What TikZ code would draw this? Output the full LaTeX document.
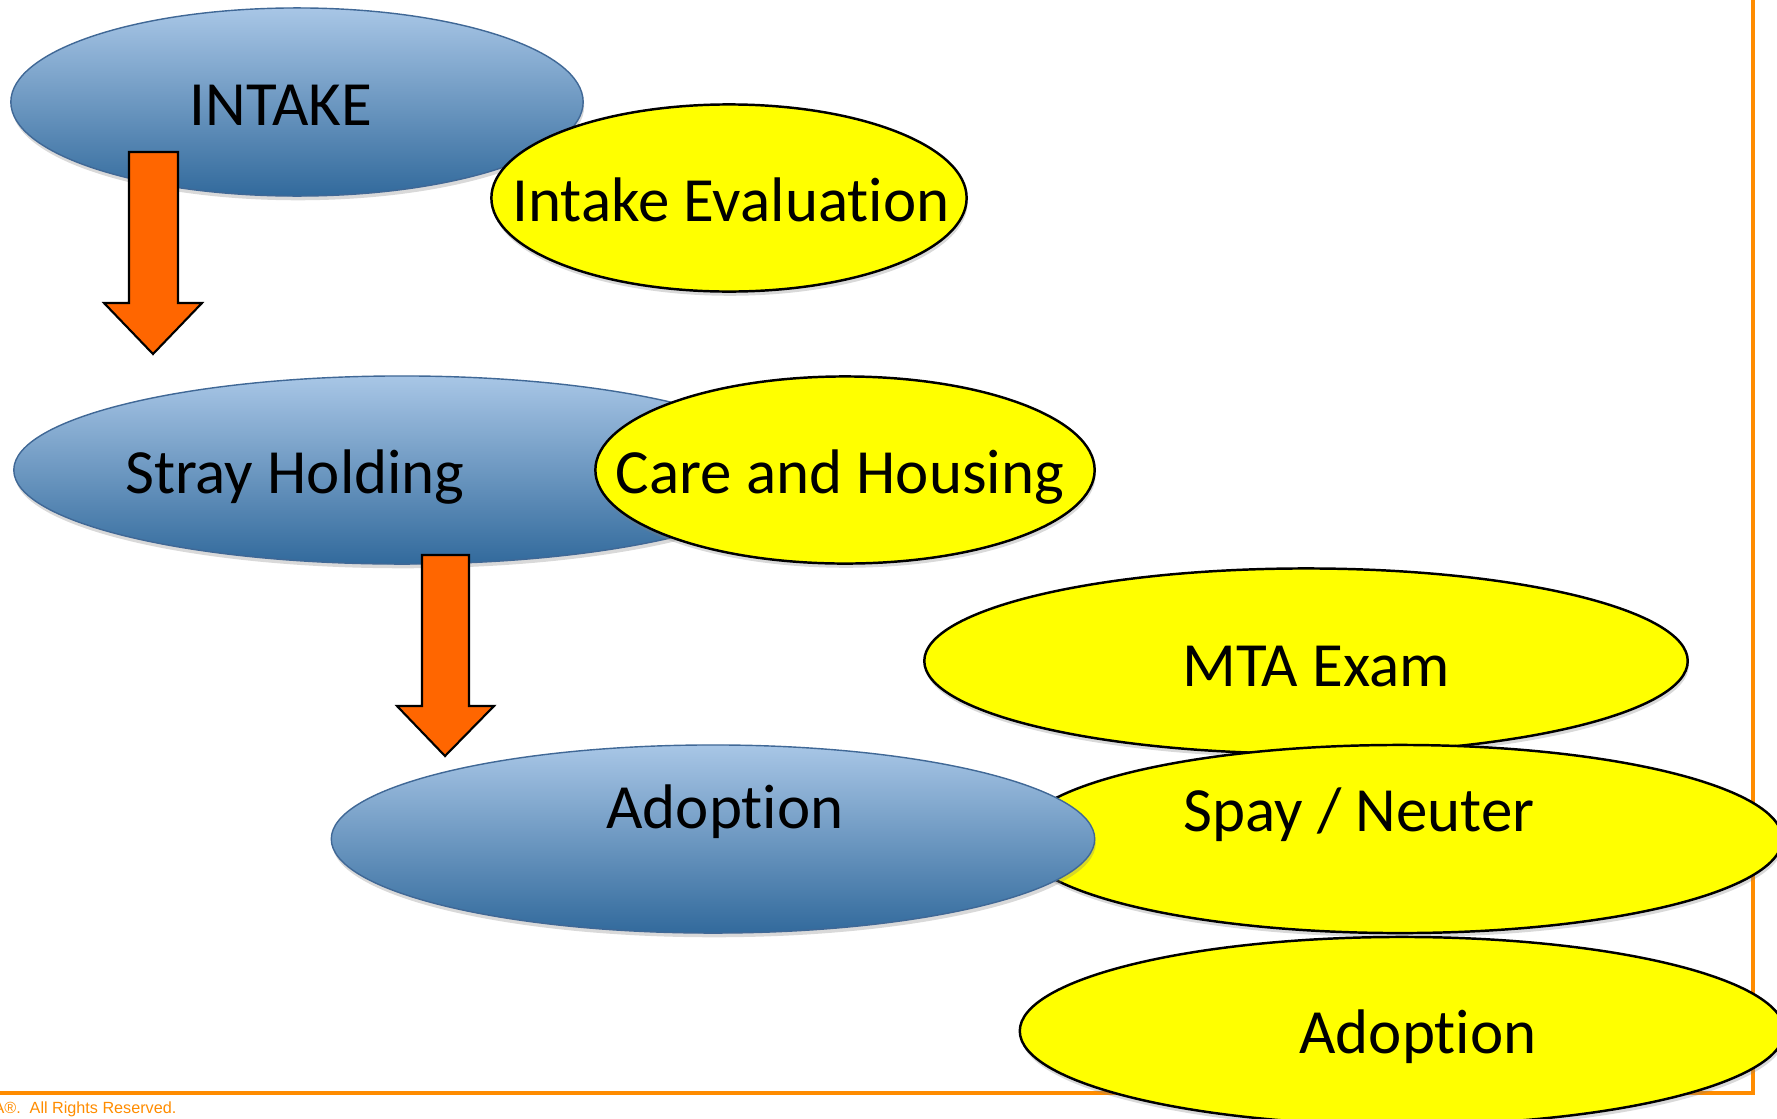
\documentclass[tikz,border=0pt]{standalone}
\usepackage{fontspec}
\setmainfont{Carlito}[Ligatures={CommonOff,ContextualOff},RawFeature={-liga;-clig;-calt}]
\newfontfamily\footfont{Liberation Sans}
\usetikzlibrary{shapes.geometric,shadows}
\definecolor{ovaltop}{RGB}{168,198,230}
\definecolor{ovalbot}{RGB}{50,106,156}
\definecolor{ovalline}{RGB}{64,104,150}
\definecolor{ovalyellow}{RGB}{255,255,0}
\definecolor{arroworange}{RGB}{255,102,0}
\definecolor{slideorange}{RGB}{255,140,0}
\tikzset{
  softshadow/.style={drop shadow={opacity=0.3,shadow xshift=0.3pt,shadow yshift=-1.2pt}},
  blueoval/.style={ellipse, draw=ovalline, line width=0.4pt, top color=ovaltop, bottom color=ovalbot, softshadow},
  yellowoval/.style={ellipse, draw=black, line width=0.7pt, fill=ovalyellow, softshadow},
  lbl/.style={anchor=base, inner sep=0pt, font=\fontsize{17.9}{20}\selectfont},
  blockarrow/.style={draw=black, line width=0.6pt, fill=arroworange, line join=miter}
}
\begin{document}
\begin{tikzpicture}[x=0.01cm,y=-0.01cm]
  \useasboundingbox (0,0) rectangle (1777,1118);
  % slide frame and footer
  \draw[slideorange, line width=0.9pt] (0,1093) -- (1753,1093) -- (1753,0);
  \node[anchor=base east, inner sep=0pt, text=slideorange, font=\footfont\fontsize{4.6}{5}\selectfont] (rights) at (177,1113) {A®.\ \ All Rights Reserved.};
  % right hand column
  \node[yellowoval, minimum width=7.63cm, minimum height=1.85cm] (mta) at (1306,661) {};
  \node[lbl] (mtatext) at (1316,686) {MTA Exam};
  \node[yellowoval, minimum width=7.64cm, minimum height=1.88cm] (spay) at (1400,839) {};
  \node[lbl] (spaytext) at (1359,831) {Spay / Neuter};
  \node[blueoval, minimum width=7.63cm, minimum height=1.88cm] (adopt) at (713,839) {};
  \node[lbl] (adopttext) at (725,828) {Adoption};
  \node[yellowoval, minimum width=7.64cm, minimum height=1.88cm] (adoptyellow) at (1402,1031) {};
  \node[lbl] (adoptyellowtext) at (1418,1053) {Adoption};
  % intake
  \node[blueoval, minimum width=5.72cm, minimum height=1.88cm] (intake) at (297,102) {};
  \node[lbl] (intaketext) at (281,125) {INTAKE};
  \node[yellowoval, minimum width=4.75cm, minimum height=1.87cm] (inteval) at (729,198) {};
  \node[lbl] (intevaltext) at (731,221) {Intake Evaluation};
  \draw[blockarrow] (129,152) -- (178,152) -- (178,303) -- (202,303) -- (153,354)
    -- (104,303) -- (129,303) -- cycle;
  % stray holding
  \node[blueoval, minimum width=7.76cm, minimum height=1.88cm] (stray) at (402,470) {};
  \node[lbl] (straytext) at (295,493) {Stray Holding};
  \node[yellowoval, minimum width=4.99cm, minimum height=1.87cm] (care) at (845,470) {};
  \node[lbl] (caretext) at (840,493) {Care and Housing};
  \draw[blockarrow] (422,555) -- (469,555) -- (469,706) -- (494,706) -- (445,756)
    -- (397,706) -- (422,706) -- cycle;
\end{tikzpicture}
\end{document}
